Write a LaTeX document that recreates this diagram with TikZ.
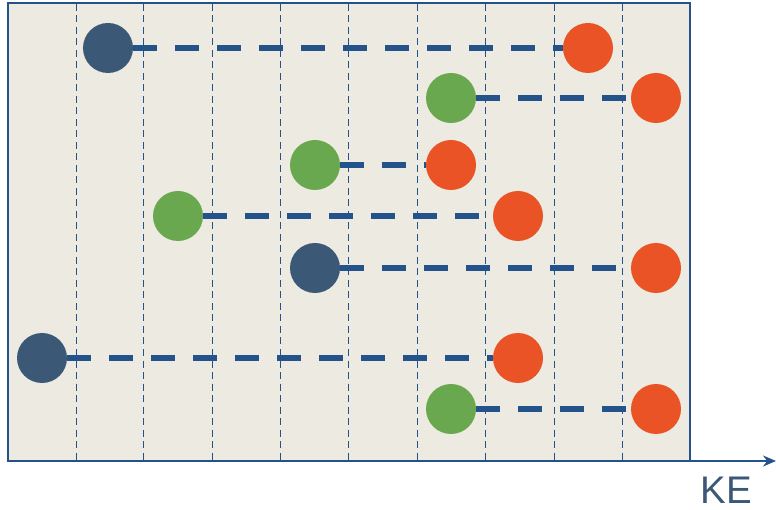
\documentclass[tikz,border=0pt]{standalone}
\usepackage{fontspec}
\setmainfont{Liberation Sans}
\usetikzlibrary{arrows.meta}
\definecolor{bgbeige}{HTML}{EDEBE1}
\definecolor{axisblue}{HTML}{24528A}
\definecolor{dotblue}{HTML}{3B5877}
\definecolor{dotgreen}{HTML}{6AA84F}
\definecolor{dotorange}{HTML}{E95325}
\definecolor{textblue}{HTML}{3B5877}
\tikzset{
  dot/.style={circle, minimum size=50pt, inner sep=0pt, outer sep=0pt},
  bluedot/.style={dot, fill=dotblue},
  greendot/.style={dot, fill=dotgreen},
  orangedot/.style={dot, fill=dotorange},
  conn/.style={draw=axisblue, line width=5.5pt, dash pattern=on 24pt off 18pt},
  gridline/.style={draw=axisblue, line width=1.8pt, dash pattern=on 7pt off 4.5pt},
  frame/.style={draw=axisblue, line width=2.4pt, fill=bgbeige}
}
\begin{document}
\begin{tikzpicture}[x=1pt,y=-1pt]
\useasboundingbox (0,0) rectangle (776,510);
\draw[frame] (8,3) rectangle (690,461);
\foreach \gx in {76.5,143.5,212.5,280.5,348.5,417.5,485.5,554.5,622.5} {
  \draw[gridline] (\gx,4) -- (\gx,460);
}
\coordinate (axs) at (8,461);
\coordinate (axe) at (776,461);
\draw[axisblue, line width=2.4pt, -{Stealth[length=13pt,width=11pt]}] (axs) -- (axe);
\node[text=textblue, font=\fontsize{38.5}{40}\selectfont, anchor=base] (ke) at (726,503) {KE};
% circles
\node[bluedot] (b1) at (108,48) {};
\node[orangedot] (o1) at (588,48) {};
\node[greendot] (g2) at (451,98) {};
\node[orangedot] (o2) at (656,98) {};
\node[greendot] (g3) at (315,165) {};
\node[orangedot] (o3) at (451,165) {};
\node[greendot] (g4) at (178,216) {};
\node[orangedot] (o4) at (518,216) {};
\node[bluedot] (b5) at (315,268) {};
\node[orangedot] (o5) at (656,268) {};
\node[bluedot] (b6) at (42,358) {};
\node[orangedot] (o6) at (518,358) {};
\node[greendot] (g7) at (451,409) {};
\node[orangedot] (o7) at (656,409) {};
% connectors
\draw[conn] (b1) -- (o1);
\draw[conn] (g2) -- (o2);
\draw[conn] (g3) -- (o3);
\draw[conn] (g4) -- (o4);
\draw[conn] (b5) -- (o5);
\draw[conn] (b6) -- (o6);
\draw[conn] (g7) -- (o7);
\end{tikzpicture}
\end{document}
